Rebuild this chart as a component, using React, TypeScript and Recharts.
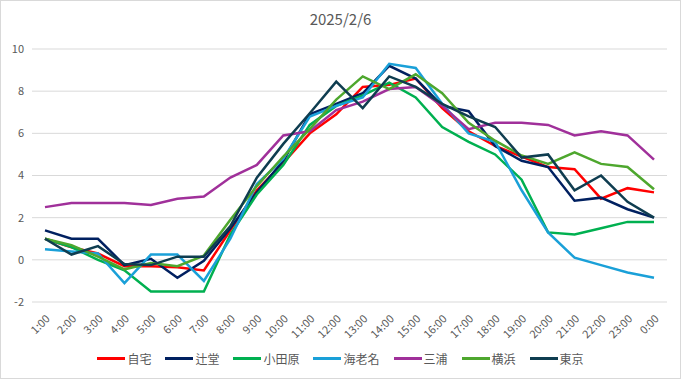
import React from 'react';
import { LineChart, Line, XAxis, YAxis, CartesianGrid } from 'recharts';

const hours = [
  '1:00', '2:00', '3:00', '4:00', '5:00', '6:00', '7:00', '8:00', '9:00', '10:00', '11:00', '12:00',
  '13:00', '14:00', '15:00', '16:00', '17:00', '18:00', '19:00', '20:00', '21:00', '22:00', '23:00', '0:00',
];

const jitaku = [1.0, 0.6, 0.3, -0.3, -0.3, -0.35, -0.5, 1.4, 3.3, 4.6, 6.0, 6.9, 8.2, 8.3, 8.6, 7.2, 6.1, 5.4, 4.9, 4.4, 4.3, 2.9, 3.4, 3.2];
const tsujido = [1.4, 1.0, 1.0, -0.25, 0.05, -0.85, -0.05, 1.5, 3.2, 4.7, 6.9, 7.4, 7.9, 9.2, 8.6, 7.3, 7.05, 5.4, 4.7, 4.4, 2.8, 2.95, 2.4, 2.0];
const odawara = [1.0, 0.6, 0.0, -0.5, -1.5, -1.5, -1.5, 1.2, 3.1, 4.5, 6.4, 7.3, 7.8, 8.4, 7.7, 6.3, 5.6, 5.0, 3.8, 1.3, 1.2, 1.5, 1.8, 1.8];
const ebina = [0.5, 0.4, 0.3, -1.1, 0.25, 0.25, -1.0, 1.0, 3.6, 4.8, 6.8, 7.3, 7.7, 9.3, 9.1, 7.4, 6.0, 5.6, 3.3, 1.3, 0.1, -0.25, -0.6, -0.85];
const miura = [2.5, 2.7, 2.7, 2.7, 2.6, 2.9, 3.0, 3.9, 4.5, 5.9, 6.1, 7.1, 7.5, 8.1, 8.2, 7.3, 6.2, 6.5, 6.5, 6.4, 5.9, 6.1, 5.9, 4.75];
const yokohama = [1.0, 0.7, 0.15, -0.45, -0.15, -0.3, 0.2, 1.9, 3.5, 4.9, 6.2, 7.6, 8.7, 8.1, 8.8, 7.9, 6.5, 5.65, 4.95, 4.55, 5.1, 4.55, 4.4, 3.35];
const tokyo = [1.0, 0.25, 0.65, -0.2, -0.25, 0.15, 0.15, 1.6, 3.9, 5.5, 6.95, 8.45, 7.2, 8.7, 8.2, 7.4, 6.8, 6.3, 4.85, 5.0, 3.3, 4.0, 2.75, 2.0];

const yTicks = [-2, 0, 2, 4, 6, 8, 10];

const series = [
  { key: '自宅', values: jitaku, color: '#ff0000' },
  { key: '辻堂', values: tsujido, color: '#002060' },
  { key: '小田原', values: odawara, color: '#00b050' },
  { key: '海老名', values: ebina, color: '#1aa0d8' },
  { key: '三浦', values: miura, color: '#a0309a' },
  { key: '横浜', values: yokohama, color: '#4ea72e' },
  { key: '東京', values: tokyo, color: '#0f3d50' },
];

const data = hours.map((h, i) => {
  const row: Record<string, string | number> = { hour: h };
  series.forEach(s => { row[s.key] = s.values[i]; });
  return row;
});

const font = '"Noto Sans CJK JP", "Noto Sans", sans-serif';

export default function App() {
  return (
    <div style={{ position: 'absolute', left: 0, top: 0, width: 681, height: 379, background: '#fff', fontFamily: font }}>
      <div style={{ position: 'absolute', left: 0, top: 0, width: 679, height: 377, border: '1px solid #d9d9d9' }} />
      <div style={{ position: 'absolute', top: 8, width: 681, textAlign: 'center', fontSize: 15, color: '#595959' }}>
        2025/2/6
      </div>
      <LineChart width={681} height={379} data={data} margin={{ top: 49, right: 14, left: 0, bottom: 27 }}>
        <CartesianGrid vertical={false} stroke="#d9d9d9" />
        <XAxis
          dataKey="hour"
          interval={0}
          axisLine={false}
          tickLine={false}
          padding={{ left: 13, right: 13 }}
          height={50}
          angle={-45}
          textAnchor="end"
          tickMargin={6}
          tick={{ fill: '#595959', fontSize: 11, fontFamily: font }}
        />
        <YAxis
          domain={[-2, 10]}
          ticks={yTicks}
          width={32}
          axisLine={false}
          tickLine={false}
          tick={{ fill: '#595959', fontSize: 11, fontFamily: font }}
        />
        {series.map(s => (
          <Line
            key={s.key}
            dataKey={s.key}
            stroke={s.color}
            strokeWidth={2.5}
            dot={false}
            type="linear"
            isAnimationActive={false}
          />
        ))}
      </LineChart>
      <div style={{ position: 'absolute', top: 350, left: 0, width: 681, display: 'flex', justifyContent: 'center', gap: 14, fontSize: 12, color: '#595959' }}>
        {series.map(s => (
          <div key={s.key} style={{ display: 'flex', alignItems: 'center', gap: 2 }}>
            <div style={{ width: 28, height: 3, background: s.color }} />
            <span>{s.key}</span>
          </div>
        ))}
      </div>
    </div>
  );
}
